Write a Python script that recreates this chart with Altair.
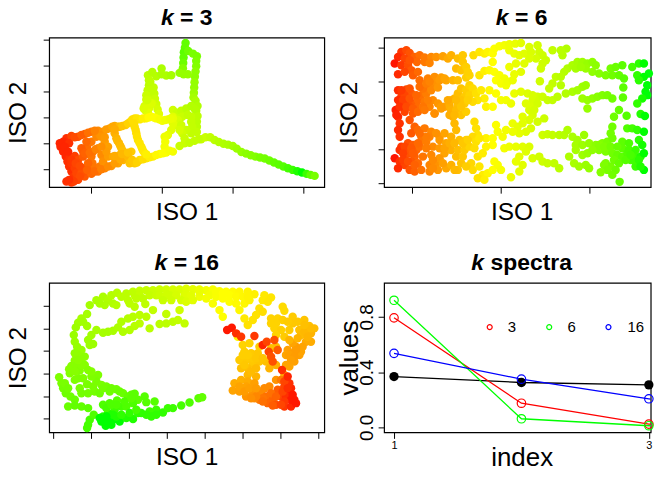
import altair as alt
import pandas as pd

FONT = "Liberation Sans"

# ---------- panel k = 3 : (iso1, iso2, colour position 0-100) ----------
k3_arm = [(605,418,68),(618,412,68),(632,412,70),(645,420,72),(658,426,74),(672,431,75),(686,434,76),(700,438,78),
          (712,446,80),(726,456,82),(740,461,84),(754,466,85),(768,470,86),(782,473,88),(796,476,89),(810,482,90),
          (824,488,92),(838,494,93),(852,500,94),(866,505,96),(880,510,97),(894,514,99),(908,518,100),(922,522,97),
          (934,525,92),(946,528,88)]
k3_top = [(558,128,92),(556,142,92),(553,156,93),(552,172,92),(551,188,90),(550,204,86),(566,152,90),(580,160,88),
          (592,168,88),(590,182,87),(590,198,86),(588,214,84),(586,230,84),(585,246,82),(584,262,82),(583,278,80),
          (582,292,78),(588,302,76),(594,318,75),(590,332,74),(594,348,72),(592,364,72),(592,380,72),(592,396,70),
          (540,218,82),(552,222,82),(565,222,82),(445,225,72),(458,215,74),(470,228,74),(486,205,76),(486,222,76),
          (500,226,76),(515,225,78)]
k3_fork = [(448,240,72),(448,255,72),(444,270,70),(440,285,68),(440,298,68),(448,290,68),(462,262,70),(464,280,70),
           (466,296,68),(470,312,66),(474,328,64),(478,342,60),(435,318,64),(438,332,62),(450,322,62),(458,310,64),
           (445,338,60),(520,330,66),(532,338,68),(545,332,70),(560,325,72),(575,318,74),(585,326,74),(520,350,60),
           (540,355,66),(548,350,68),(565,345,70),(575,350,70),(575,365,70),(578,380,70),(575,400,70),(560,390,68),
           (548,400,66),(555,415,68),(540,438,68),(555,430,68),(570,428,70),(585,422,70),(598,418,70),(535,360,64),
           (525,375,62),(515,390,60),(505,405,58),(495,410,56),(497,425,54),(495,440,54),(500,455,54),(520,370,60),
           (545,375,66),(540,390,64)]
k3_band = [(180,430,2),(200,415,3),(215,408,6),(235,410,8),(255,402,12),(275,395,16),(295,392,20),(310,395,22),
           (330,385,26),(345,378,28),(360,380,32),(378,375,36),(392,365,40),(405,355,42),(420,358,44),(438,355,47),
           (455,350,50),(470,355,52),(488,362,54),(505,358,56),(520,355,58),(182,440,2),(190,455,2),(198,470,2),
           (203,485,3),(208,500,3),(215,515,3),(222,530,4),(215,545,4),(200,545,3),(228,540,5),(210,470,3),(225,468,5),
           (215,490,4),(235,480,7),(250,470,10),(265,462,13),(280,455,16),(295,445,20),(215,548,4),(235,540,6),
           (255,530,9),(275,522,12),(295,515,15),(315,505,18),(335,498,22),(355,490,26),(370,480,30),(385,470,32),
           (390,490,34),(405,490,36),(420,480,40),(440,475,43),(460,470,46),(480,462,50),(500,458,52),(520,455,54),
           (225,505,5),(230,520,6),(250,505,8),(245,520,8),(270,500,12),(285,505,14),(300,500,16),(250,455,10),
           (262,440,13),(275,425,16),(290,410,19),(300,405,21),(260,460,12),(275,470,15),(278,490,15),(305,465,20),
           (310,485,21),(318,500,22),(325,470,24),(340,470,27),(360,465,30),(375,460,33),(395,455,36),(305,410,22),
           (315,425,24),(325,440,25),(320,455,24),(340,385,27),(345,400,29),(350,415,30),(358,430,32),(365,445,33),
           (372,460,34),(400,360,41),(405,380,41),(410,400,41),(415,420,42),(425,440,44),(432,455,44),(355,380,31),
           (260,425,12),(245,445,10),(265,490,12)]
k3_more = [(190,425,2),(208,430,3),(195,440,2),(205,455,2),(215,480,4),(228,490,6),(240,498,7),(262,510,11),(240,530,7),
           (222,545,5),(208,540,3),(285,515,13),(305,508,17),(325,500,20),(345,490,24),(362,478,28),(380,465,31),
           (398,480,35),(412,488,38),(430,478,41),(450,472,45),(470,465,48),(490,460,51),(510,452,53),(225,412,7),
           (245,405,10),(265,398,14),(285,392,18),(320,388,24),(338,380,27),(368,378,34),(385,370,38),(398,358,41),
           (412,355,43),(430,355,46),(447,352,49),(463,352,51),(480,358,53),(497,360,55),(512,356,57),(255,460,11),
           (270,458,14),(288,448,18),(305,440,21),(315,412,23),(345,388,28),(353,422,31),(362,438,32),(369,452,33),
           (345,468,28),(367,462,31),(385,458,34),(403,370,41),(408,390,41),(412,410,42),(420,430,43),(428,448,44),
           (440,463,46),(455,310,62),(432,325,62),(443,300,66),(452,245,71)]

# ---------- panel k = 6 : (iso1, iso2), colour follows iso1 ----------
k6_top = [(215,155),(230,150),(240,158),(205,170),(195,190),(225,175),(255,170),(270,165),(285,172),(262,185),(305,170),
          (320,170),(340,168),(355,175),(365,165),(385,175),(400,165),(400,185),(380,205),(395,210),(410,200),(432,165),
          (450,155),(465,160),(475,155),(490,160),(495,145),(510,138),(525,135),(540,132),(558,130),(575,128),(490,185),
          (540,150),(555,160),(570,165),(585,160),(600,140),(605,155),(625,135),(630,155),(640,165),(650,180),(620,175),
          (600,175),(640,190),(635,205),(670,150),(700,165),(712,145),(695,150),(585,190),(560,190),(540,200),(575,215),
          (555,222),(215,195),(235,195),(245,210),(205,222),(225,215),(250,225),(265,215),(270,240),(295,235),(315,230),
          (335,232),(350,240),(370,240),(385,240),(410,232),(420,225),(415,215),(450,225),(465,212),(480,210),(495,215),
          (510,225),(525,235),(500,240),(515,250),(530,255),(535,245),(550,240),(285,185),(300,188),(240,180)]
k6_mid = [(205,270),(230,268),(245,280),(215,290),(205,300),(230,300),(250,310),(265,300),(275,285),(295,260),(310,250),
          (290,280),(320,245),(330,240),(345,235),(310,300),(325,310),(345,320),(360,318),(375,295),(385,280),(395,265),
          (410,270),(420,255),(430,265),(405,290),(420,285),(440,280),(455,270),(480,270),(500,280),(465,295),(445,300),
          (470,320),(490,320),(515,300),(530,300),(545,310),(555,280),(575,275),(595,280),(610,300),(605,320),(625,290),
          (640,290),(655,300),(670,300),(685,290),(695,255),(680,230),(670,250),(660,265),(710,280),(730,275),(745,270),
          (760,260),(770,255),(632,243),(760,295),(775,300),(790,295),(805,290),(820,285),(835,285),(850,295),(775,325),
          (220,310),(240,320),(265,320),(285,305),(300,320),(280,265),(305,270),(365,330),(385,315),(405,310),(430,305),
          (225,285),(270,260),(290,250),(315,340),(335,325)]
k6_right = [(715,205),(730,195),(745,185),(760,185),(775,190),(790,185),(800,195),(705,215),(770,205),(790,215),(810,220),
            (830,225),(845,205),(860,200),(880,195),(850,225),(870,225),(885,235),(910,200),(930,190),(945,190),(925,225),
            (960,220),(945,230),(930,240),(955,255),(950,275),(955,285),(940,295),(925,310),(883,262),(882,292),(870,330),
            (855,350),(893,347),(935,342),(948,348),(695,230),(740,205),(755,200)]
k6_low1 = [(198,330),(205,350),(210,370),(205,390),(210,410),(240,360),(255,380),(245,400),(265,390),(285,385),(305,395),
           (315,340),(335,320),(370,350),(380,330),(395,345),(410,335),(375,370),(380,390),(365,410),(435,365),(440,385),
           (445,405),(500,375),(505,395),(520,410),(550,370),(565,380),(580,350),(600,330),(610,345),(645,355),(625,365),
           (605,385),(590,395),(570,400),(550,395),(530,390),(470,415),(490,415),(430,410),(410,420),(390,420),(200,345),
           (225,335),(250,340),(275,410),(330,410),(345,400)]
k6_low2 = [(640,405),(655,403),(670,405),(690,405),(705,405),(715,390),(730,410),(745,420),(765,405),(740,435),(760,435),
           (780,430),(800,435),(820,430),(835,425),(845,400),(850,380),(850,415),(880,425),(895,385),(910,385),(925,390),
           (945,395),(930,420),(940,435),(900,430),(880,445),(525,445),(540,440),(560,440),(580,440),(600,440),(590,455),
           (570,470),(560,485),(580,495),(570,515),(545,532),(610,475),(630,470),(640,485),(655,490),(675,490),(690,505),
           (720,470),(735,490),(750,500),(770,495),(780,505),(740,450),(760,465),(775,460),(810,450),(830,455),(850,460),
           (865,465),(880,470),(895,460),(915,465),(935,470),(945,460),(905,480),(925,490),(945,510),(920,500),(830,490),
           (845,500),(825,495),(860,510),(835,510),(815,517),(850,525),(872,546),(855,480),(870,490)]
k6_low3 = [(215,440),(235,430),(250,435),(210,450),(235,455),(260,450),(280,420),(270,440),(255,470),(280,470),(195,475),
           (210,485),(225,495),(205,505),(240,510),(255,515),(275,510),(245,485),(300,495),(300,515),(320,490),(325,510),
           (350,505),(365,495),(385,510),(395,490),(310,440),(330,420),(350,430),(345,460),(365,450),(380,470),(385,450),
           (305,465),(330,475),(400,470),(405,450),(420,440),(435,445),(425,490),(430,510),(410,500),(445,470),(450,500),
           (460,525),(475,520),(445,535),(465,540),(490,510),(495,485),(505,495),(515,510),(460,460),(490,435),(470,440),
           (225,470),(240,460),(265,490),(290,445)]
k6_more = [(215,270),(240,265),(220,300),(240,295),(210,320),(230,320),(250,325),(265,335),(280,320),(295,300),(285,330),
           (260,285),(300,245),(325,262),(365,300),(355,300),(395,300),(415,300),(380,300),(360,345),(395,320),(375,345),
           (225,440),(245,445),(220,460),(250,460),(265,430),(290,425),(300,410),(320,400),(290,410),(270,400),(330,445),
           (345,445),(360,430),(375,430),(400,430),(415,420),(220,480),(235,485),(255,495),(310,480),(340,490),(375,510),
           (310,505),(440,425),(450,415),(610,285),(590,310),(625,310),(615,330),(600,360),(580,370),(810,435),(825,440),
           (845,440),(865,440),(790,450),(900,450),(920,450),(915,480),(930,480),(935,500),(890,480),(905,465)]

# ---------- panel k = 16 : (iso1, iso2, colour position 0-100) ----------
k16_top = [(270,195,78),(310,170,76),(325,180,75),(335,165,74),(352,158,73),(365,170,72),(340,190,75),(350,195,74),
           (315,195,76),(380,160,72),(400,155,71),(420,152,70),(440,150,69),(460,150,68),(480,148,67),(500,148,66),
           (520,148,64),(540,148,63),(560,146,61),(580,147,59),(600,148,57),(620,150,55),(640,148,53),(660,153,51),
           (680,155,50),(700,155,49),(720,155,48),(745,155,47),(765,162,46),(450,165,69),(470,165,68),(510,165,66),
           (530,165,64),(555,165,62),(600,170,56),(620,175,54),(640,190,52),(660,210,50),(670,230,50),(630,165,54),
           (650,170,52),(670,175,50),(690,185,50),(710,190,49),(720,210,48),(735,190,48),(750,180,47),(385,180,72),
           (405,165,71),(290,180,77),(420,165,70),(430,175,71),(560,165,61),(575,165,60),(480,165,67),(500,165,66),
           (690,165,50),(710,170,49),(730,170,48),(745,170,47),(650,155,52),(670,160,50),(600,155,57),(300,190,77)]
k16_left = [(262,222,78),(245,235,78),(235,248,79),(228,262,80),(250,245,79),(262,258,79),(222,285,81),(225,305,81),
            (232,320,82),(245,330,82),(235,345,83),(225,362,84),(215,378,85),(208,388,85),(228,378,85),(245,360,84),
            (255,375,85),(265,390,86),(240,392,86),(178,412,87),(185,430,88),(190,445,89),(198,460,90),(212,470,90),
            (225,480,91),(205,500,91),(225,497,92),(245,500,92),(265,505,93),(235,415,87),(225,420,87),(240,445,88),
            (262,433,88),(265,460,89),(285,455,89),(295,405,87),(290,425,88),(305,435,88),(320,440,89),(335,445,90),
            (350,448,90),(370,460,91),(385,470,92),(405,462,93),(415,480,93),(435,470,94),(440,487,94),(465,485,94),
            (245,375,85),(275,410,87),(210,400,86),(300,460,90),(225,340,83),(235,360,84),(215,390,85),(225,395,85),
            (255,350,84),(195,430,88),(205,445,89),(245,460,89),(280,440,88),(310,445,89),(330,455,90),(360,455,91),
            (395,465,92),(250,415,87),(275,395,86)]
k16_low = [(310,495,95),(330,490,95),(352,482,94),(365,500,96),(345,510,97),(325,520,98),(310,530,99),(330,525,99),
           (305,545,100),(318,558,100),(340,540,100),(360,545,100),(380,535,99),(400,538,99),(415,520,98),(425,520,98),
           (450,515,97),(455,530,98),(470,510,97),(490,518,98),(505,505,97),(520,505,97),(545,497,96),(570,488,95),
           (597,475,93),(608,472,92),(380,500,95),(400,490,95),(400,465,93),(265,555,96),(262,565,96),(270,540,96),
           (282,525,95),(320,540,100),(335,555,100),(320,505,96),(340,525,99),(350,530,99),(365,525,98),(390,520,98),
           (410,510,96),(440,525,98),(470,525,98),(300,535,100),(320,530,100),(335,495,95),(375,485,95),(350,495,95),
           (395,475,93)]
k16_inner = [(280,312,80),(265,300,80),(275,285,79),(290,270,78),(310,278,78),(325,275,78),(340,272,77),(355,262,76),
             (365,245,75),(385,235,74),(400,230,73),(420,225,72),(440,230,72),(420,250,72),(405,258,73),(390,270,74),
             (370,275,75),(450,265,72),(480,252,72),(500,250,72),(520,245,71),(535,240,70),(555,250,70),(540,210,66),
             (500,222,70),(460,210,70),(437,192,71),(405,200,72),(390,190,72),(410,175,71),(490,180,68),(545,180,64),
             (515,180,66),(560,185,62),(580,180,60),(270,315,80)]
k16_right = [(795,165,44),(815,172,43),(790,180,44),(805,185,43),(850,200,40),(855,212,40),(780,205,42),(770,225,42),
             (790,215,41),(760,240,42),(735,235,44),(745,255,42),(815,235,38),(835,235,38),(850,240,37),(880,230,36),
             (895,245,35),(915,240,34),(930,258,33),(945,265,32),(825,265,38),(845,270,37),(830,285,38),(855,290,36),
             (870,270,36),(900,270,33),(905,285,32),(935,280,30),(920,305,28),(935,305,28),(910,320,26),(890,320,24),
             (880,310,26),(865,330,25),(880,340,24),(860,345,26),(900,345,25),(885,365,25),(870,380,26),(855,405,28),
             (830,320,32),(905,335,26),(890,330,24),(815,325,33),(870,300,30),(870,345,25),(885,350,24),(875,360,25),
             (860,375,26),(895,295,30),(915,275,31),(925,290,30),(935,265,32),(915,255,33),(880,250,35),(865,245,36),
             (830,250,38),(815,250,38)]
k16_mid = [(730,315,38),(750,310,38),(735,335,37),(755,340,36),(775,340,35),(740,360,36),(760,370,35),(780,365,34),
           (800,365,33),(725,385,33),(745,385,33),(770,385,32),(810,385,30),(830,375,29),(770,410,30),(745,405,31),
           (705,430,28),(725,420,29),(745,425,28),(700,452,26),(720,455,25),(740,440,26),(765,430,25),(760,460,22),
           (785,455,20),(810,440,20),(830,420,22),(845,420,16),(780,480,16),(740,470,22),(800,470,14),(820,480,11),
           (835,450,10),(855,440,6),(805,490,12),(830,495,8),(855,500,4),(875,500,2),(885,480,1),(870,460,1),(845,470,6),
           (860,470,3),(875,480,1),(855,485,4),(875,445,2),(870,430,3),(855,425,6),(890,490,1),(765,475,20),(795,445,20),
           (720,360,36),(780,320,36),(720,440,26),(735,455,24),(750,445,25),(770,445,24),(790,475,15),(815,460,14),
           (830,470,11),(850,455,6),(865,445,3),(880,465,1),(845,495,6),(820,497,10),(790,485,14),(770,470,19),(755,475,21),
           (760,355,36),(745,345,37),(730,345,37),(770,355,35),(790,355,34),(735,375,35),(755,395,32)]
k16_red = [(715,290,48),(683,270,1),(697,263,1),(710,280,3),(725,290,4),(765,288,4),(790,315,2),(808,335,6),(802,305,6),
           (825,300,8),(815,350,8),(835,330,10),(820,365,8),(848,390,3),(865,410,2)]

# ---------- panel k spectra ----------
index = [1, 2, 3, 4]
spec_black = [0.368, 0.325, 0.308]
spec_red = [0.793, 0.175, 0.024, 0.0]
spec_green = [0.92, 0.0625, 0.012, 0.004]
spec_blue = [0.536, 0.349, 0.207, 0.053]
legend_names = ["3", "6", "16"]
legend_colors = ["#ff0000", "#00ff00", "#0000ff"]
legend_dot_x = [1.751, 2.218, 2.683]
legend_text_x = [1.926, 2.395, 2.898]
legend_y = 0.726

LEFT_W, RIGHT_W, FRAME_H = 276, 267.5, 150
ramp = alt.Scale(domain=[0, 50, 100], range=["#ff0000", "#ffff00", "#00ff00"])
ramp6 = alt.Scale(domain=[190, 490, 945], range=["#ff0000", "#ffff00", "#00ff00"])


def title_layers(rest, k_right, rest_left):
    common = dict(fontSize=23, font=FONT, baseline="middle", color="black")
    a = alt.Chart().mark_text(text="k", align="right", fontWeight="bold", fontStyle="italic", **common).encode(
        x=alt.value(k_right), y=alt.value(-20))
    b = alt.Chart().mark_text(text=rest, align="left", fontWeight="bold", **common).encode(
        x=alt.value(rest_left), y=alt.value(-20))
    return [a, b]


def axis(ticks, title, **kw):
    return alt.Axis(values=ticks, labels=False, title=title, grid=False, domain=False, ticks=True, tickSize=6,
                    tickColor="black", tickWidth=1, titleFont=FONT, titleFontSize=24.5, titleFontWeight="normal",
                    titleColor="black", titleBaseline="middle", **kw)


def scatter(rows, xdom, ydom, xticks, yticks, color, rest, k_right, rest_left, width, ytitle_x):
    df = pd.DataFrame(rows, columns=["x", "y", "t"][:len(rows[0])])
    pts = alt.Chart(df).mark_circle(size=72, opacity=1).encode(
        x=alt.X("x:Q", scale=alt.Scale(domain=xdom, nice=False, zero=False),
                axis=axis(xticks, "ISO 1", titleY=25, titleX=138)),
        y=alt.Y("y:Q", scale=alt.Scale(domain=ydom, nice=False, zero=False),
                axis=axis(yticks, "ISO 2", titleX=ytitle_x)),
        color=color,
        order=alt.Order("o:Q"),
    ).transform_window(o="row_number()")
    return alt.layer(pts, *title_layers(rest, k_right, rest_left)).properties(width=width, height=FRAME_H)


p1 = scatter(k3_arm + k3_top + k3_fork + k3_band + k3_more, [148, 975], [562, 112], [275, 488, 700, 912],
             [117, 195, 273, 351, 429, 507], alt.Color("t:Q", scale=ramp, legend=None), "= 3", 124.9, 131.3, LEFT_W, -31.2)
p2 = scatter(k6_top + k6_mid + k6_right + k6_low1 + k6_low2 + k6_low3 + k6_more, [163, 965.5], [562, 112],
             [248, 514, 780], [143, 245, 347, 449, 550], alt.Color("x:Q", scale=ramp6, legend=None), "= 6", 124.9, 131.3,
             RIGHT_W, -35)
p3 = scatter(k16_top + k16_left + k16_low + k16_inner + k16_right + k16_mid + k16_red, [148, 975], [578, 128],
             [160, 274, 388, 502, 616, 730, 844, 958], [197, 265, 333, 401, 469, 537],
             alt.Color("t:Q", scale=ramp, legend=None), "= 16", 118.5, 124.9, LEFT_W, -31.2)

# spectra panel
xs = alt.Scale(domain=[0.922, 3.0146], nice=False, zero=False)
ys = alt.Scale(domain=[-0.036, 1.046], nice=False, zero=False)
xax = alt.Axis(values=[1, 2, 3], format="d", grid=False, domain=False, tickSize=6, tickColor="black", tickWidth=1,
               labelFont=FONT, labelFontSize=11, labelColor="black", labelPadding=1, labelOverlap=False, labelFlush=False,
               labelBound=False, title="index", titleFont=FONT, titleFontSize=26, titleFontWeight="normal",
               titleColor="black", titleBaseline="middle", titleY=25, titleX=138)
yax = alt.Axis(values=[0, 0.2, 0.4, 0.6, 0.8, 1.0], grid=False, domain=False, tickSize=6, tickColor="black",
               tickWidth=1, labelFont=FONT, labelFontSize=19, labelColor="black", labelAngle=270, labelAlign="center",
               labelBaseline="bottom", labelPadding=2, labelOverlap=False,
               labelExpr="(datum.value < 0.1) ? '0.0' : (abs(datum.value - 0.4) < 0.01) ? '0.4' : (abs(datum.value - 0.8) < 0.01) ? '0.8' : ''",
               title="values", titleFont=FONT, titleFontSize=26, titleFontWeight="normal", titleColor="black",
               titleBaseline="middle", titleX=-35)

rows = []
for name, vals in [("black", spec_black), ("red", spec_red), ("green", spec_green), ("blue", spec_blue)]:
    for i, v in zip(index, vals):
        rows.append({"i": i, "v": v, "s": name})
spec = pd.DataFrame(rows)
spec_colors = alt.Scale(domain=["black", "red", "green", "blue"], range=["#000000", "#ff0000", "#00ff00", "#0000ff"])
base = alt.Chart(spec)
lines = base.mark_line(strokeWidth=1.3, clip=True).encode(
    x=alt.X("i:Q", scale=xs, axis=xax), y=alt.Y("v:Q", scale=ys, axis=yax),
    color=alt.Color("s:N", scale=spec_colors, legend=None), detail="s:N")
shown = base.transform_filter("datum.i <= 3")
filled = shown.transform_filter("datum.s == 'black'").mark_circle(size=87, opacity=1, color="black").encode(
    x=alt.X("i:Q", scale=xs), y=alt.Y("v:Q", scale=ys))
opened = shown.transform_filter("datum.s != 'black'").mark_point(size=72, filled=False, strokeWidth=1.2, opacity=1).encode(
    x=alt.X("i:Q", scale=xs), y=alt.Y("v:Q", scale=ys),
    color=alt.Color("s:N", scale=spec_colors, legend=None))
leg = pd.DataFrame({"name": legend_names, "c": legend_colors, "dx": legend_dot_x, "tx": legend_text_x,
                    "y": [legend_y] * 3})
leg_dots = alt.Chart(leg).mark_point(size=25, filled=False, strokeWidth=1.2, opacity=1).encode(
    x=alt.X("dx:Q", scale=xs), y=alt.Y("y:Q", scale=ys), color=alt.Color("c:N", scale=None))
leg_text = alt.Chart(leg).mark_text(font=FONT, fontSize=15, color="black", baseline="middle", align="center").encode(
    x=alt.X("tx:Q", scale=xs), y=alt.Y("y:Q", scale=ys), text="name:N")
p4 = alt.layer(lines, filled, opened, leg_dots, leg_text, *title_layers("spectra", 100.3, 106.7)).properties(
    width=RIGHT_W, height=FRAME_H)

chart = alt.concat(p1, p2, p3, p4, columns=2, spacing={"row": 96, "column": 60}, bounds="flush").properties(
    padding={"left": -3.7, "top": -3, "right": -2.2, "bottom": 0},
    background="white",
).configure_view(stroke="black", strokeWidth=1.2, fill="white")

chart.save("out.html", embed_options={"renderer": "svg", "actions": False})
